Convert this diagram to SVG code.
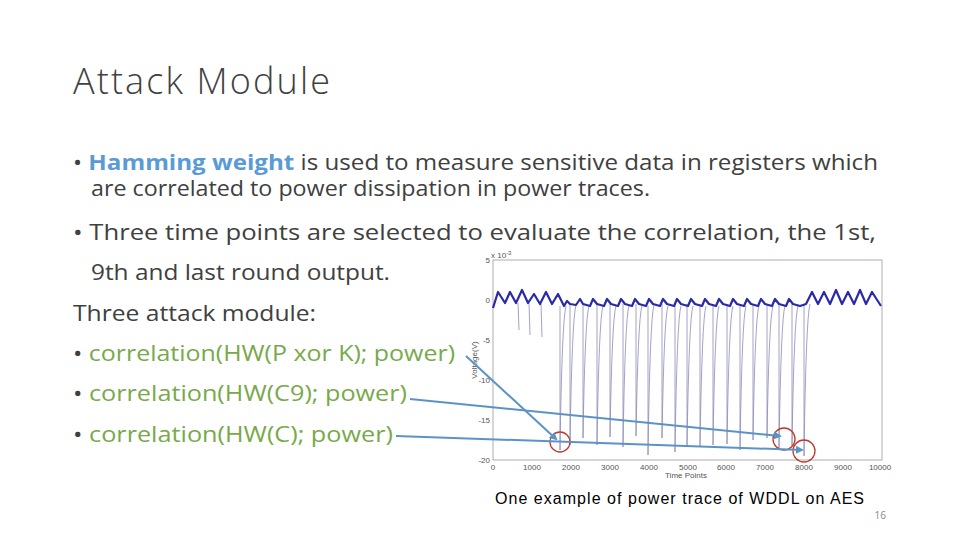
<svg xmlns="http://www.w3.org/2000/svg" width="960" height="540" viewBox="0 0 960 540">
<style>
.t{font-family:"Open Sans","Liberation Sans",sans-serif;font-size:22px;fill:#404040}
.g{fill:#78a94a}
.ax{font-family:"Liberation Sans",sans-serif;font-size:8px;fill:#555}
.arr{stroke:#5b93c7;stroke-width:2;fill:none;marker-end:url(#ah)}
.c{fill:none;stroke:#c0392b;stroke-width:1.3}
</style>
<defs>
<marker id="ah" markerWidth="8" markerHeight="8" refX="6" refY="4" orient="auto" markerUnits="userSpaceOnUse">
<path d="M0,0 L8,4 L0,8 z" fill="#5b93c7"/>
</marker>
</defs>
<rect width="960" height="540" fill="#fff"/>
<g id="title"><text x="73" y="94" font-family="'Open Sans','Liberation Sans',sans-serif" font-weight="300" font-size="36" fill="#404040" textLength="257">Attack Module</text></g>
<g id="body">
<text class="t" x="73" y="170" textLength="805" lengthAdjust="spacingAndGlyphs">• <tspan fill="#5b9bd5" font-weight="bold">Hamming weight</tspan> is used to measure sensitive data in registers which</text>
<text class="t" x="91" y="196" textLength="559" lengthAdjust="spacingAndGlyphs">are correlated to power dissipation in power traces.</text>
<text class="t" x="73" y="240" textLength="803" lengthAdjust="spacingAndGlyphs">• Three time points are selected to evaluate the correlation, the 1st,</text>
<text class="t" x="91" y="280" textLength="299" lengthAdjust="spacingAndGlyphs">9th and last round output.</text>
<text class="t" x="73" y="321" textLength="243" lengthAdjust="spacingAndGlyphs">Three attack module:</text>
<text class="t" x="73" y="361" textLength="382" lengthAdjust="spacingAndGlyphs">• <tspan class="g">correlation(HW(P xor K); power)</tspan></text>
<text class="t" x="73" y="401" textLength="334" lengthAdjust="spacingAndGlyphs">• <tspan class="g">correlation(HW(C9); power)</tspan></text>
<text class="t" x="73" y="442" textLength="320" lengthAdjust="spacingAndGlyphs">• <tspan class="g">correlation(HW(C); power)</tspan></text>
</g>
<g id="plot">
<rect x="493" y="260" width="389" height="200" fill="none" stroke="#999" stroke-width="0.8"/>
<g class="ax" text-anchor="end">
<text x="490" y="263">5</text><text x="490" y="303">0</text><text x="490" y="343">-5</text>
<text x="490" y="383">-10</text><text x="490" y="423">-15</text><text x="490" y="463">-20</text>
</g>
<text class="ax" x="491" y="258">x 10<tspan font-size="6" dy="-3">-3</tspan></text>
<g class="ax" text-anchor="middle">
<text x="493" y="470">0</text><text x="532" y="470">1000</text><text x="571" y="470">2000</text><text x="610" y="470">3000</text>
<text x="649" y="470">4000</text><text x="688" y="470">5000</text><text x="726" y="470">6000</text><text x="765" y="470">7000</text>
<text x="804" y="470">8000</text><text x="843" y="470">9000</text><text x="880" y="470">10000</text>
<text x="686" y="478">Time Points</text>
<text transform="translate(477,360) rotate(-90)">Voltage(V)</text>
</g>
<path fill="none" stroke="#8a8ab8" stroke-width="0.8" d="M518,303 L519,330 M529,303 L530,335 M541,304 L542,337 M560,306 L560,450 Q562,320 566,306 M570,304 L570,445 Q572,318 576,305 M583,304 L583,438 Q585,318 589,306 M597,304 L597,445 Q599,318 603,306 M610,304 L610,437 Q612,318 616,306 M623,304 L623,447 Q625,318 629,306 M636,304 L636,436 Q638,318 642,306 M648,306 L648,455 Q650,318 654,305 M662,304 L662,438 Q664,318 668,306 M675,304 L675,452 Q677,318 681,306 M687,304 L687,447 Q689,318 693,306 M700,304 L700,447 Q702,318 706,306 M713,304 L713,445 Q715,318 719,306 M727,304 L727,444 Q729,318 733,306 M740,304 L740,450 Q742,318 746,306 M753,304 L753,440 Q755,318 759,306 M767,304 L767,438 Q769,318 773,306 M779,304 L779,450 Q781,318 785,306 M792,304 L792,446 Q794,318 798,306 M804,304 L804,456 Q806,318 810,304"/>
<path fill="none" stroke="#2a2aa8" stroke-width="2.2" stroke-linejoin="round" d="M493,308 L498,292 L505,303 L510,292 L516,303 L522,290 L528,303 L534,294 L540,304 L546,292 L552,304 L558,294 L564,306 L567,301 L570,304 L576,305 L580,299 L583,304 L590,306 L593,299 L597,304 L604,306 L607,299 L611,304 L618,306 L621,299 L625,304 L632,306 L635,299 L639,304 L646,306 L649,299 L653,304 L660,306 L663,299 L667,304 L674,306 L677,299 L681,304 L688,306 L691,299 L695,304 L702,306 L705,299 L709,304 L716,306 L719,299 L723,304 L730,306 L733,299 L737,304 L744,306 L747,299 L751,304 L758,306 L761,299 L765,304 L772,306 L775,299 L779,304 L786,306 L789,299 L793,304 L800,306 L806,304 L812,292 L818,304 L824,292 L830,304 L836,290 L842,304 L848,292 L854,304 L860,290 L866,304 L872,292 L881,306"/>
</g>
<g id="markers">
<circle class="c" cx="560" cy="442" r="10"/>
<circle class="c" cx="784" cy="439" r="11"/>
<circle class="c" cx="804" cy="451" r="11"/>
</g>
<g id="connectors">
<line class="arr" x1="466" y1="356" x2="556" y2="439"/>
<line class="arr" x1="410" y1="399" x2="780" y2="436"/>
<line class="arr" x1="396" y1="436" x2="802" y2="450"/>
</g>
<g id="caption">
<text x="495" y="504" font-family="'Liberation Sans',Arial,sans-serif" font-size="16" fill="#000" textLength="369">One example of power trace of WDDL on AES</text>
<text x="886" y="519" text-anchor="end" font-family="'Open Sans','Liberation Sans',sans-serif" font-size="10" fill="#888">16</text>
</g>
</svg>
